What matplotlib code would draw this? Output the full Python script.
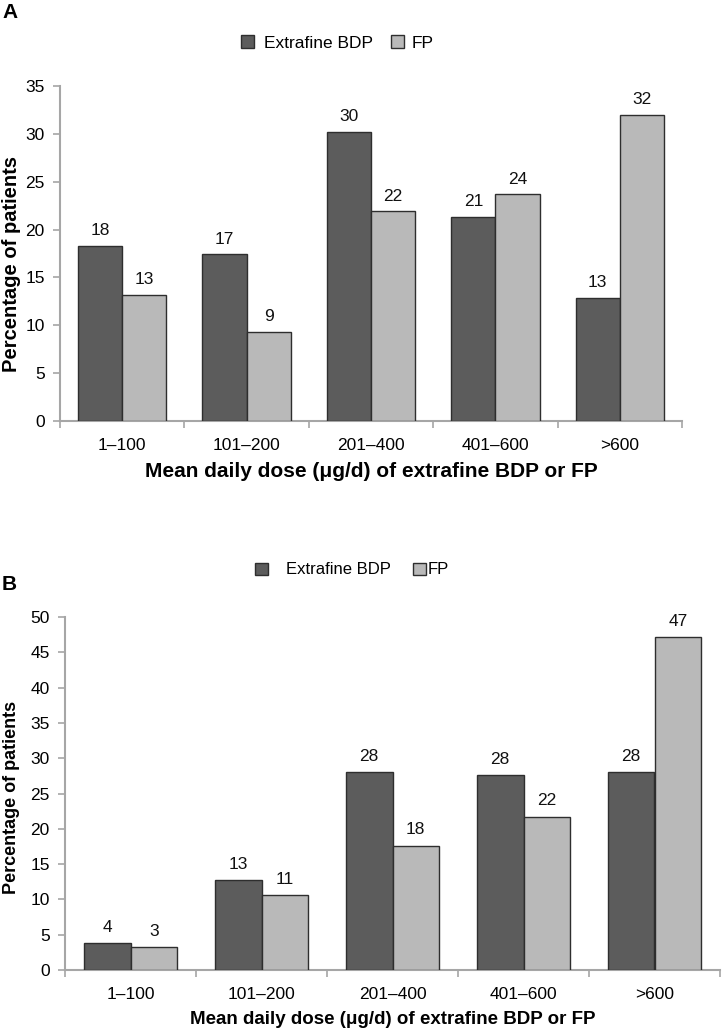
import matplotlib
matplotlib.use("Agg")
import matplotlib.pyplot as plt
import numpy as np
from matplotlib import font_manager as fm

categories = ["1\u2013100", "101\u2013200", "201\u2013400", "401\u2013600", ">600"]
series_names = ["Extrafine BDP", "FP"]
bdp_a = [18.3, 17.4, 30.2, 21.3, 12.9]
fp_a = [13.2, 9.3, 21.9, 23.7, 32.0]
bdp_b = [3.8, 12.7, 28.0, 27.6, 28.0]
fp_b = [3.2, 10.6, 17.6, 21.7, 47.1]
lab_bdp_a = [18, 17, 30, 21, 13]
lab_fp_a = [13, 9, 22, 24, 32]
lab_bdp_b = [4, 13, 28, 28, 28]
lab_fp_b = [3, 11, 18, 22, 47]

names = {f.name for f in fm.fontManager.ttflist}
fam_a = "Liberation Sans" if "Liberation Sans" in names else "DejaVu Sans"
fam_b = "Liberation Sans Narrow" if "Liberation Sans Narrow" in names else fam_a

DARK = "#5c5c5c"
LIGHT = "#b9b9b9"
EDGE = "#2e2e2e"
SPINE = "#a6a6a6"

W, H = 723, 1031
fig = plt.figure(figsize=(W / 100, H / 100), dpi=100)


def px_axes(l, r, top, bottom):
    return fig.add_axes([l / W, 1 - bottom / H, (r - l) / W, (bottom - top) / H])


def panel(ax, bdp, fp, lbd, lfp, ymax, yticks, fam, label_off, ylsize, xlsize, ylab_xy):
    n = len(categories)
    x = np.arange(n)
    w = 0.355
    ax.bar(x - w / 2, bdp, w, color=DARK, edgecolor=EDGE, linewidth=1.0, zorder=3)
    ax.bar(x + w / 2, fp, w, color=LIGHT, edgecolor=EDGE, linewidth=1.0, zorder=3)
    for xi, v, t in zip(x - w / 2, bdp, lbd):
        ax.text(xi, v + label_off, str(t), ha="center", va="bottom", fontsize=12.5, family=fam, color="#111111")
    for xi, v, t in zip(x + w / 2, fp, lfp):
        ax.text(xi, v + label_off, str(t), ha="center", va="bottom", fontsize=12.5, family=fam, color="#111111")
    ax.set_xlim(-0.5, n - 0.5)
    ax.set_ylim(0, ymax)
    ax.set_yticks(yticks)
    ax.set_yticklabels([str(t) for t in yticks], family=fam, fontsize=12.5)
    ax.set_xticks(x)
    ax.set_xticklabels(categories, family=fam, fontsize=12.5)
    ax.set_xticks(np.arange(n + 1) - 0.5, minor=True)
    ax.tick_params(axis="x", which="major", length=0, pad=12)
    ax.tick_params(axis="x", which="minor", length=5, color=SPINE, width=1.2)
    ax.tick_params(axis="y", length=5, color=SPINE, width=1.2, pad=6)
    for s in ["top", "right"]:
        ax.spines[s].set_visible(False)
    for s in ["left", "bottom"]:
        ax.spines[s].set_color(SPINE)
        ax.spines[s].set_linewidth(1.5)
    ax.set_ylabel("Percentage of patients", fontsize=ylsize, fontweight="bold", family=fam_a, va="center")
    ax.yaxis.set_label_coords(*ylab_xy)
    ax.set_xlabel("Mean daily dose (\u03bcg/d) of extrafine BDP or FP", fontsize=xlsize,
                  fontweight="bold", family=fam, labelpad=7)


axA = px_axes(60, 682, 86, 421)
panel(axA, bdp_a, fp_a, lab_bdp_a, lab_fp_a, 35, list(range(0, 36, 5)), fam_a, 0.8, 14.5, 15,
      ((12 - 60) / 622, 0.47))
axB = px_axes(65, 720, 617, 970)
panel(axB, bdp_b, fp_b, lab_bdp_b, lab_fp_b, 50, list(range(0, 51, 5)), fam_b, 1.2, 13, 13.5,
      ((12 - 65) / 655, 0.49))


def legend_entry(color, label, marker_left_px, y_px, pad, fam, size=12.5):
    h = [plt.Rectangle((0, 0), 1, 1, facecolor=color, edgecolor=EDGE, linewidth=1.0)]
    fig.legend(h, [label], loc="center left", bbox_to_anchor=(marker_left_px / W, 1 - y_px / H),
               frameon=False, prop={"family": fam, "size": size}, handlelength=0.75, handleheight=0.75,
               handletextpad=pad, borderpad=0, borderaxespad=0)


legend_entry(DARK, series_names[0], 241, 43, 0.55, fam_a)
legend_entry(LIGHT, series_names[1], 391, 43, 0.45, fam_a)
legend_entry(DARK, series_names[0], 255, 570, 1.1, fam_b, 12)
legend_entry(LIGHT, series_names[1], 413, 570, 0.15, fam_b, 12)

fig.text(2 / W, 1 - 12 / H, "A", fontsize=15, fontweight="bold", family=fam_a, va="center", ha="left")
fig.text(2 / W, 1 - 585 / H, "B", fontsize=15, fontweight="bold", family=fam_a, va="center", ha="left")

fig.savefig("out.png", dpi=100, facecolor="white")
